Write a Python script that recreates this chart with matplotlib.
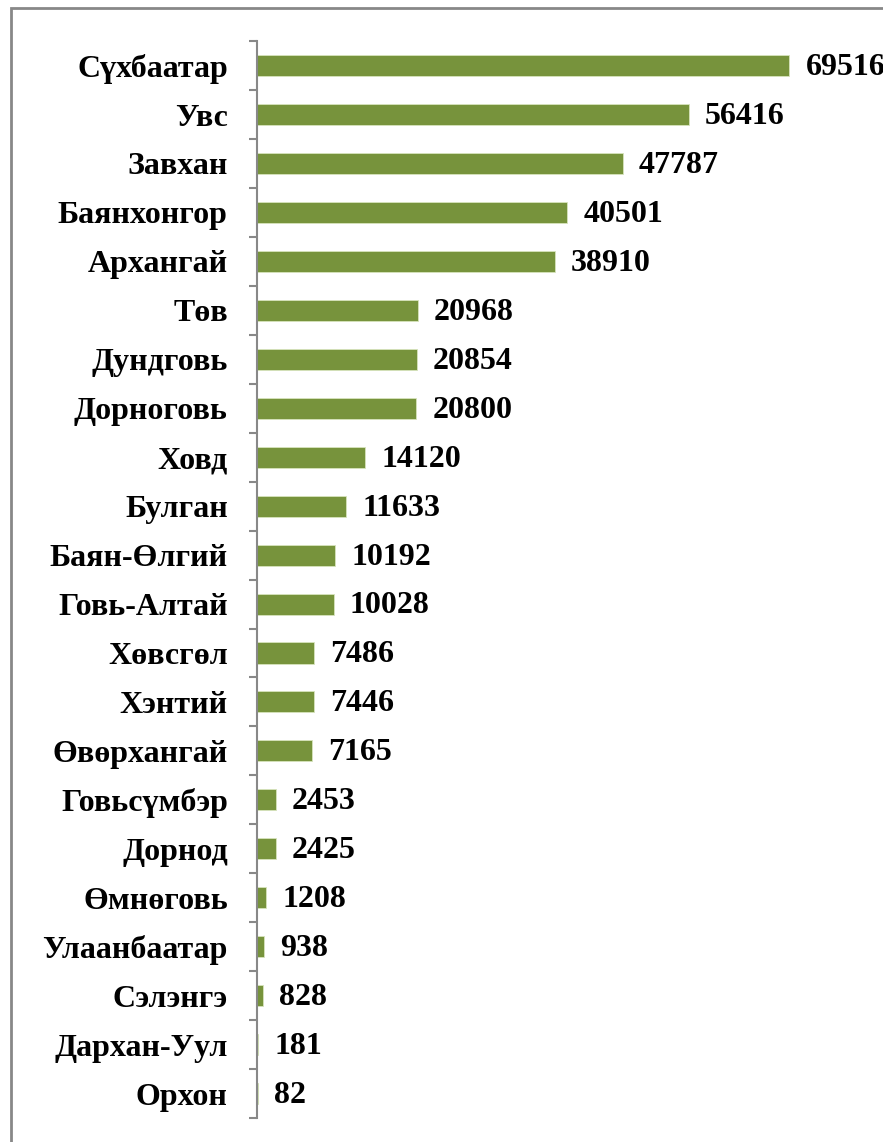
import numpy as np
import matplotlib.pyplot as plt
from matplotlib.patches import Rectangle

aimag = ['Сүхбаатар', 'Увс', 'Завхан', 'Баянхонгор', 'Архангай', 'Төв', 'Дундговь',
         'Дорноговь', 'Ховд', 'Булган', 'Баян-Өлгий', 'Говь-Алтай', 'Хөвсгөл', 'Хэнтий',
         'Өвөрхангай', 'Говьсүмбэр', 'Дорнод', 'Өмнөговь', 'Улаанбаатар', 'Сэлэнгэ',
         'Дархан-Уул', 'Орхон']
too = [69516, 56416, 47787, 40501, 38910, 20968, 20854, 20800, 14120, 11633, 10192,
       10028, 7486, 7446, 7165, 2453, 2425, 1208, 938, 828, 181, 82]

plt.rcParams['font.family'] = ['Liberation Serif', 'DejaVu Serif']
plt.rcParams['font.weight'] = 'bold'

fig = plt.figure(figsize=(8.83, 11.42), dpi=100)
ax = fig.add_axes([0.291, 0.021, 0.694, 0.943])

y = np.arange(len(aimag))
ax.barh(y, too, height=0.43, color='#77933C', edgecolor='#d7e4bd', linewidth=0.6)
for yi, v in zip(y, too):
    ax.text(v + 2100, yi + 0.04, str(v), va='center', ha='left', fontsize=23, fontweight='bold')

ax.set_xlim(0, 80000)
ax.set_ylim(len(aimag) - 0.5, -0.5)
ax.set_yticks(y)
ax.set_yticklabels(aimag, fontsize=23, fontweight='bold')
ax.set_yticks(np.arange(len(aimag) + 1) - 0.5, minor=True)
ax.tick_params(axis='y', which='major', length=0, pad=21)
ax.tick_params(axis='y', which='minor', length=6, width=1.5, color='#888888')
ax.set_xticks([])
for s in ['top', 'right', 'bottom']:
    ax.spines[s].set_visible(False)
ax.spines['left'].set_color('#888888')
ax.spines['left'].set_linewidth(1.5)

# outer chart frame (cropped at right and bottom)
fig.patches.append(Rectangle((11 / 883, -0.1), 1.2, 1.1 - 8 / 1142, transform=fig.transFigure,
                             fill=False, edgecolor='#888888', linewidth=2, clip_on=False))

fig.savefig('out.png', dpi=100)
